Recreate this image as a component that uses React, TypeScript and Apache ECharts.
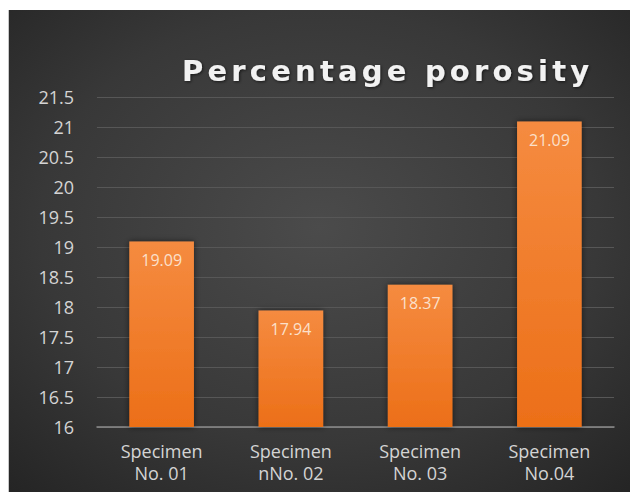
import React, { useEffect, useRef } from "react";
import * as echarts from "echarts";

// Porosity measured for each specimen (%)
const categories = ["Specimen\nNo. 01", "Specimen\nnNo. 02", "Specimen\nNo. 03", "Specimen\nNo.04"];
const porosity = [19.09, 17.94, 18.37, 21.09];
const axisMin = 16;
const axisMax = 21.5;
const axisStep = 0.5;

export default function App() {
  const ref = useRef<HTMLDivElement>(null);

  useEffect(() => {
    if (!ref.current) return;
    const chart = echarts.init(ref.current, undefined, { renderer: "svg" });
    chart.setOption({
      animation: false,
      backgroundColor: {
        type: "radial",
        x: 0.5,
        y: 0.45,
        r: 0.75,
        colorStops: [
          { offset: 0, color: "#4b4b4b" },
          { offset: 0.6, color: "#383838" },
          { offset: 1, color: "#242424" },
        ],
      },
      title: {
        text: "Percentage porosity",
        left: 168,
        top: 41,
        textStyle: {
          color: "#f2f2f2",
          fontFamily: "DejaVu Sans",
          fontWeight: "bold",
          fontSize: 29,
          textShadowColor: "rgba(0,0,0,0.6)",
          textShadowBlur: 3,
          textShadowOffsetX: 1,
          textShadowOffsetY: 1,
        },
      },
      grid: { left: 88, right: 16, top: 87, bottom: 65 },
      xAxis: {
        type: "category",
        data: categories,
        axisTick: { show: false },
        axisLine: { lineStyle: { color: "#8c8c8c", width: 1.5 } },
        axisLabel: {
          color: "#d4d4d4",
          fontFamily: "Open Sans",
          fontSize: 18,
          lineHeight: 22,
          margin: 13,
        },
      },
      yAxis: {
        type: "value",
        min: axisMin,
        max: axisMax,
        interval: axisStep,
        axisLine: { show: false },
        axisTick: { show: false },
        splitLine: { lineStyle: { color: "#575757", width: 1 } },
        axisLabel: {
          color: "#d4d4d4",
          fontFamily: "Open Sans",
          fontSize: 18,
          margin: 23,
        },
      },
      series: [
        {
          type: "bar",
          data: porosity,
          barWidth: "50%",
          itemStyle: {
            color: {
              type: "linear",
              x: 0,
              y: 0,
              x2: 0,
              y2: 1,
              colorStops: [
                { offset: 0, color: "#f58b40" },
                { offset: 1, color: "#ec6f18" },
              ],
            },
            shadowColor: "rgba(0,0,0,0.55)",
            shadowBlur: 6,
          },
          label: {
            show: true,
            position: "insideTop",
            distance: 10,
            color: "#fbe0cb",
            fontFamily: "Open Sans",
            fontSize: 16,
          },
        },
      ],
    });
    return () => chart.dispose();
  }, []);

  return (
    <div style={{ position: "relative", width: 630, height: 492, background: "#ffffff" }}>
      <style>{`body{margin:0} text[style*="DejaVu"]{letter-spacing:4.2px}`}</style>
      <div
        ref={ref}
        style={{
          position: "absolute",
          left: 8,
          top: 10,
          width: 622,
          height: 482,
          borderLeft: "1px solid #c8c8c8",
          boxSizing: "border-box",
        }}
      />
    </div>
  );
}
